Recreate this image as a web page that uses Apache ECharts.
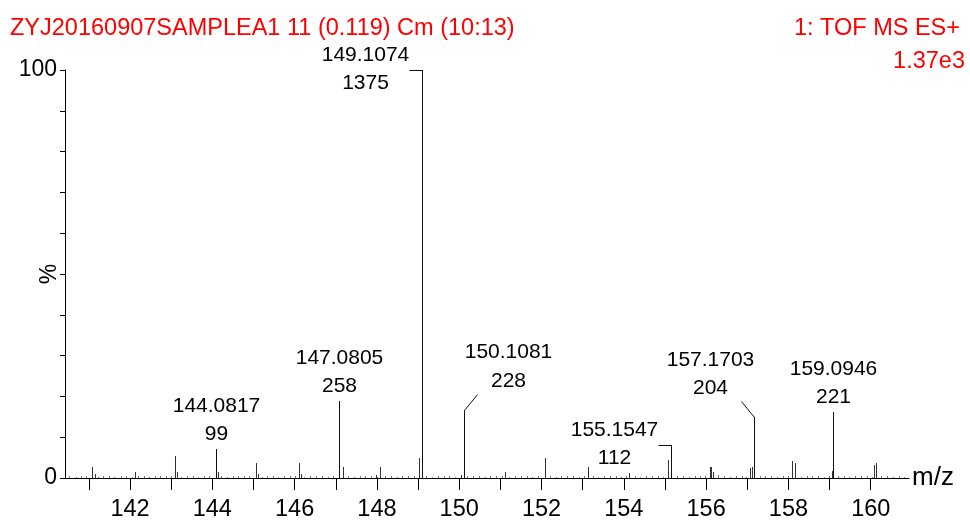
<!DOCTYPE html>
<html>
<head>
<meta charset="utf-8">
<script src="https://cdn.jsdelivr.net/npm/echarts@6/dist/echarts.min.js"></script>
<style>
html,body{margin:0;padding:0;background:#fff;}
#chart{width:970px;height:521px;}
</style>
</head>
<body>
<div id="chart"></div>
<script>
// ---- data ----
var titleLeft = 'ZYJ20160907SAMPLEA1 11 (0.119) Cm (10:13)';
var titleRight = '1: TOF MS ES+';
var scaleText = '1.37e3';
var basePeakCounts = 1375;

// labelled peaks (m/z, counts)
var peakMz = [144.0817, 147.0805, 149.1074, 150.1081, 155.1547, 157.1703, 159.0946];
var peakCounts = [99, 258, 1375, 228, 112, 204, 221];

// other visible sticks (m/z, % of base peak)
var minorMz = [141.07, 141.15, 142.12, 143.09, 143.15, 144.15, 145.06, 145.12, 146.11, 146.15,
  147.18, 147.97, 148.08, 149.02, 150.04, 151.11, 152.09, 153.14, 154.13, 155.08, 156.09, 156.13,
  156.17, 157.07, 157.11, 158.09, 158.17, 159.05, 160.07, 160.12];
var minorPct = [2.8, 0.9, 1.5, 5.3, 1.4, 1.5, 3.6, 1.1, 3.6, 1.0,
  2.8, 0.8, 2.8, 4.8, 0.8, 1.4, 4.8, 2.7, 1.3, 4.4, 2.8, 2.6,
  1.5, 2.4, 2.6, 4.2, 3.6, 1.8, 3.2, 3.6];

// baseline noise sticks (m/z, %)
var noiseMz = [140.52, 140.68, 140.81, 140.93, 141.22, 141.35, 141.48, 141.61, 141.77, 141.90,
  142.05, 142.20, 142.33, 142.47, 142.60, 142.74, 142.88, 143.00, 143.24, 143.38, 143.52, 143.66,
  143.80, 143.93, 144.22, 144.36, 144.50, 144.63, 144.77, 144.90, 145.20, 145.34, 145.47, 145.60,
  145.74, 145.88, 146.02, 146.24, 146.38, 146.52, 146.66, 146.80, 146.94, 147.30, 147.44, 147.58,
  147.72, 147.86, 148.00, 148.20, 148.34, 148.48, 148.62, 148.76, 148.90, 149.20, 149.34, 149.48,
  149.62, 149.76, 149.90, 150.20, 150.34, 150.48, 150.62, 150.76, 150.90, 151.04, 151.22, 151.36,
  151.50, 151.64, 151.78, 151.92, 152.20, 152.34, 152.48, 152.62, 152.76, 152.90, 153.04, 153.24,
  153.38, 153.52, 153.66, 153.80, 153.94, 154.06, 154.26, 154.40, 154.54, 154.68, 154.82, 154.96,
  155.30, 155.44, 155.58, 155.72, 155.86, 155.98, 156.30, 156.44, 156.58, 156.72, 156.86, 156.98,
  157.30, 157.44, 157.58, 157.72, 157.86, 158.00, 158.30, 158.44, 158.58, 158.72, 158.86, 158.98,
  159.20, 159.34, 159.48, 159.62, 159.76, 159.90, 160.02, 160.25, 160.40, 160.54, 160.68, 160.82];
var noisePct = [0.4, 0.3, 0.5, 0.4, 0.3, 0.5, 0.4, 0.3, 0.4, 0.6,
  0.3, 0.5, 0.4, 0.3, 0.4, 0.5, 0.6, 0.4, 0.3, 0.5, 0.4, 0.3,
  0.5, 0.6, 0.4, 0.3, 0.5, 0.4, 0.6, 0.4, 0.3, 0.4, 0.5, 0.3,
  0.6, 0.4, 0.5, 0.3, 0.4, 0.6, 0.4, 0.3, 0.5, 0.4, 0.3, 0.5,
  0.4, 0.6, 0.3, 0.4, 0.5, 0.3, 0.4, 0.6, 0.5, 0.4, 0.3, 0.5,
  0.4, 0.6, 0.3, 0.5, 0.4, 0.6, 0.3, 0.4, 0.5, 0.4, 0.3, 0.5,
  0.4, 0.6, 0.3, 0.5, 0.4, 0.3, 0.5, 0.4, 0.6, 0.3, 0.4, 0.5,
  0.3, 0.4, 0.6, 0.4, 0.3, 0.5, 0.4, 0.3, 0.5, 0.6, 0.4, 0.3,
  0.4, 0.5, 0.3, 0.4, 0.6, 0.5, 0.7, 0.4, 0.3, 0.5, 0.4, 0.3,
  0.5, 0.4, 0.6, 0.3, 0.4, 0.5, 0.3, 0.6, 0.4, 0.5, 0.3, 0.4,
  0.5, 0.4, 0.3, 0.6, 0.4, 0.5, 0.3, 0.4, 0.5, 0.3, 0.4, 0.3];

// axis ticks / labels
var xMin = 140.42, xMax = 160.93;
var xTickValues = [141, 142, 143, 144, 145, 146, 147, 148, 149, 150, 151, 152, 153, 154, 155, 156, 157, 158, 159, 160];
var xLabelValues = [142, 144, 146, 148, 150, 152, 154, 156, 158, 160];
var yLabelValues = [0, 100];

// ---- presentation ----
var FONT = '"Liberation Sans", Arial, Helvetica, sans-serif';
var annotStyle = ['above', 'above', 'bracketLeft', 'diagRight', 'bracketLeft', 'diagLeft', 'above'];

var peakPct = peakCounts.map(function (c) { return c / basePeakCounts * 100; });

var stickData = [];
noiseMz.forEach(function (m, i) { stickData.push([m, noisePct[i], 2]); });
minorMz.forEach(function (m, i) { stickData.push([m, minorPct[i], 1]); });
peakMz.forEach(function (m, i) { stickData.push([m, peakPct[i], 0]); });
var stickColors = ['#111', '#333', '#777'];

var annotData = peakMz.map(function (m, i) { return [m, peakPct[i], i]; });

function px(v) { return Math.round(v) + 0.5; }

var redTitle = { color: '#ff0000', fontSize: 23.5, fontWeight: 'normal', fontFamily: FONT };

var chart = echarts.init(document.getElementById('chart'), null, { renderer: 'canvas' });
chart.setOption({
  animation: false,
  backgroundColor: '#fff',
  textStyle: { fontFamily: FONT },
  title: [
    { text: titleLeft, left: 10, top: 17, padding: 0, textStyle: redTitle },
    { text: titleRight, right: 10, top: 17, padding: 0, textStyle: redTitle },
    { text: scaleText, right: 5, top: 50, padding: 0, textStyle: redTitle }
  ],
  grid: { left: 65, right: 61, top: 70, bottom: 43, containLabel: false, outerBoundsMode: 'none' },
  xAxis: {
    type: 'value', min: xMin, max: xMax,
    name: 'm/z', nameLocation: 'end', nameGap: 3, nameMoveOverlap: false,
    nameTextStyle: { color: '#000', fontSize: 26, fontFamily: FONT, verticalAlign: 'middle' },
    axisLine: { show: true, onZero: false, lineStyle: { color: '#000', width: 1 } },
    axisTick: { show: true, inside: false, length: 12, customValues: xTickValues, lineStyle: { color: '#000' } },
    axisLabel: { show: true, customValues: xLabelValues, color: '#000', fontSize: 23.5, fontFamily: FONT, margin: 20 },
    splitLine: { show: false }
  },
  yAxis: {
    type: 'value', min: 0, max: 100, interval: 10,
    name: '%', nameLocation: 'middle', nameRotate: 90, nameGap: 4, nameMoveOverlap: false,
    nameTextStyle: { color: '#000', fontSize: 23, fontFamily: FONT },
    axisLine: { show: true, lineStyle: { color: '#000', width: 1 } },
    axisTick: { show: true, inside: false, length: 5, lineStyle: { color: '#000' } },
    axisLabel: { show: true, customValues: yLabelValues, color: '#000', fontSize: 23, fontFamily: FONT, margin: 8 },
    splitLine: { show: false }
  },
  series: [
    {
      type: 'custom',
      coordinateSystem: 'cartesian2d',
      data: stickData,
      silent: true,
      renderItem: function (params, api) {
        var p0 = api.coord([api.value(0), 0]);
        var p1 = api.coord([api.value(0), api.value(1)]);
        var x = px(p0[0]);
        return {
          type: 'line',
          shape: { x1: x, y1: Math.round(p0[1]), x2: x, y2: Math.round(p1[1]) },
          style: { stroke: stickColors[api.value(2)], lineWidth: 1 }
        };
      }
    },
    {
      type: 'custom',
      coordinateSystem: 'cartesian2d',
      data: annotData,
      silent: true,
      renderItem: function (params, api) {
        var idx = api.value(2);
        var p = api.coord([api.value(0), api.value(1)]);
        var x = px(p[0]), y = Math.round(p[1]) + 0.5;
        var kind = annotStyle[idx];
        var t1 = peakMz[idx].toFixed(4);
        var t2 = String(peakCounts[idx]);
        var tx, y1, y2, leader = null;
        if (kind === 'above') {
          tx = x; y1 = y - 43; y2 = y - 15;
        } else if (kind === 'bracketLeft') {
          leader = [[x, y], [x - 13, y]];
          tx = x - 57; y1 = y - 15; y2 = y + 13;
        } else if (kind === 'diagRight') {
          leader = [[x, y], [x + 13, y - 16]];
          tx = x + 44; y1 = y - 58; y2 = y - 29;
        } else {
          leader = [[x, y], [x - 13, y - 16]];
          tx = x - 44; y1 = y - 57; y2 = y - 29;
        }
        var children = [
          { type: 'text', style: { text: t1, x: tx, y: y1, fill: '#000', font: '21px ' + FONT, align: 'center', verticalAlign: 'middle', textAlign: 'center', textVerticalAlign: 'middle' } },
          { type: 'text', style: { text: t2, x: tx, y: y2, fill: '#000', font: '21px ' + FONT, align: 'center', verticalAlign: 'middle', textAlign: 'center', textVerticalAlign: 'middle' } }
        ];
        if (leader) {
          children.push({ type: 'polyline', shape: { points: leader }, style: { stroke: '#111', lineWidth: 1, fill: null } });
        }
        return { type: 'group', children: children };
      }
    }
  ]
});
</script>
</body>
</html>
